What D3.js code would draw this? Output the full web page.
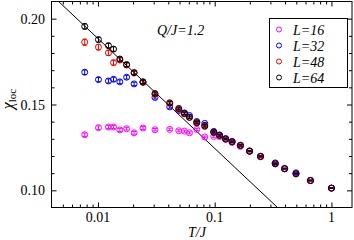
<!DOCTYPE html>
<html>
<head>
<meta charset="utf-8">
<script src="https://cdn.jsdelivr.net/npm/d3@7"></script>
<style>
  body { margin: 0; background: #fff; }
  text { font-family: "Liberation Serif", "Times New Roman", serif; }
</style>
</head>
<body>
<div id="chart"></div>
<script>
// temperatures shared by all system sizes
var temps = [0.0077, 0.0101, 0.0123, 0.0136, 0.0154, 0.0176, 0.0204, 0.0243, 0.0308,
    0.0412, 0.0492, 0.0551, 0.0608, 0.0702, 0.0822, 0.0982, 0.110, 0.124, 0.141,
    0.166, 0.199, 0.247, 0.330, 0.397, 0.497, 0.661, 1.0];

var chiL16 = [0.1324, 0.1365, 0.1369, 0.1369, 0.1352, 0.1359, 0.1335, 0.1363, 0.1353,
    0.1355, 0.1347, 0.1345, 0.1335, 0.1355, 0.1311, 0.1314, 0.1313, 0.1297, 0.1279,
    0.1256, 0.1227, 0.1195, 0.1154, 0.1125, 0.1096, 0.1057, 0.1012];
var chiL32 = [0.1688, 0.1645, 0.1637, 0.1647, 0.1632, 0.1659, 0.1620, 0.1631, 0.1541,
    0.1486, 0.1465, 0.1451, 0.1436, 0.1401, 0.1390, 0.1343, 0.1323, 0.1302, 0.1285,
    0.1262, 0.1230, 0.1198, 0.1160, 0.1128, 0.1102, 0.1058, 0.1013];
var chiL48 = [0.1863, 0.1834, 0.1801, 0.1744, 0.1759, 0.1730, 0.1683, 0.1628, 0.1558,
    0.1506, 0.1471, 0.1445, 0.1424, 0.1392, 0.1372, 0.1337, 0.1320, 0.1299, 0.1283,
    0.1261, 0.1228, 0.1197, 0.1155, 0.1126, 0.1097, 0.1057, 0.1013];
var chiL64 = [0.1955, 0.1878, 0.1843, 0.1823, 0.1765, 0.1733, 0.1686, 0.1632, 0.1564,
    0.1510, 0.1477, 0.1448, 0.1426, 0.1395, 0.1376, 0.1339, 0.1320, 0.1299, 0.1283,
    0.1262, 0.1228, 0.1198, 0.1155, 0.1126, 0.1096, 0.1057, 0.1013];

var errL16 = [0.0010, 0.0010, 0.0009, 0.0009, 0.0009, 0.0008, 0.0008, 0.0008, 0.0007,
    0.0007, 0.0006, 0.0006, 0.0006, 0.0006, 0.0005, 0.0005, 0.0005, 0.0004, 0.0004,
    0.0004, 0.0003, 0.0003, 0.0003, 0.0002, 0.0002, 0.0002, 0.0002];
var errL32 = [0.0013, 0.0012, 0.0012, 0.0012, 0.0011, 0.0011, 0.0010, 0.0010, 0.0009,
    0.0008, 0.0008, 0.0007, 0.0007, 0.0006, 0.0006, 0.0005, 0.0005, 0.0004, 0.0004,
    0.0004, 0.0003, 0.0003, 0.0003, 0.0002, 0.0002, 0.0002, 0.0002];
var errL48 = [0.0018, 0.0016, 0.0015, 0.0014, 0.0013, 0.0012, 0.0011, 0.0010, 0.0009,
    0.0008, 0.0008, 0.0007, 0.0007, 0.0006, 0.0006, 0.0005, 0.0005, 0.0004, 0.0004,
    0.0004, 0.0003, 0.0003, 0.0003, 0.0002, 0.0002, 0.0002, 0.0002];
var errL64 = [0.0015, 0.0014, 0.0013, 0.0013, 0.0012, 0.0011, 0.0010, 0.0010, 0.0009,
    0.0008, 0.0008, 0.0007, 0.0007, 0.0006, 0.0006, 0.0005, 0.0005, 0.0004, 0.0004,
    0.0004, 0.0003, 0.0003, 0.0003, 0.0002, 0.0002, 0.0002, 0.0002];

var seriesNames = ["L=16", "L=32", "L=48", "L=64"];
var seriesColors = ["#ff00ff", "#0000ff", "#ff0000", "#000000"];
var seriesValues = [chiL16, chiL32, chiL48, chiL64];
var seriesErrors = [errL16, errL32, errL48, errL64];

// straight guide line (two end points in data space)
var lineT = [0.004, 0.4];
var lineChi = [0.2139, 0.0859];

var xMajorTicks = [0.01, 0.1, 1];
var xTickLabels = ["0.01", "0.1", "1"];
var xMinorTicks = [0.005, 0.006, 0.007, 0.008, 0.009, 0.02, 0.03, 0.04, 0.05, 0.06,
    0.07, 0.08, 0.09, 0.2, 0.3, 0.4, 0.5, 0.6, 0.7, 0.8, 0.9];
var yMajorTicks = [0.10, 0.15, 0.20];
var yTickLabels = ["0.10", "0.15", "0.20"];
var yMinorTicks = [0.11, 0.12, 0.13, 0.14, 0.16, 0.17, 0.18, 0.19];

var width = 354, height = 240;
var plotLeft = 51.5, plotRight = 352, plotTop = 1.5, plotBottom = 207.5;

var svg = d3.select("#chart")
    .append("svg")
    .attr("width", width)
    .attr("height", height);

var x = d3.scaleLog().domain([0.004, 1.5]).range([plotLeft, plotRight]);
var y = d3.scaleLinear().domain([0.09, 0.21]).range([plotBottom, plotTop]);

svg.append("clipPath").attr("id", "plotclip")
    .append("rect")
    .attr("x", plotLeft).attr("y", plotTop)
    .attr("width", plotRight - plotLeft).attr("height", plotBottom - plotTop);

// ticks pointing inward on all four sides
function tickAxis(axis, pos, values, size) {
    var g = svg.append("g")
        .attr("transform", pos)
        .call(axis.tickValues(values).tickSizeInner(-size).tickSizeOuter(0).tickFormat(""));
    g.select(".domain").remove();
    g.selectAll("line").attr("stroke", "#000").attr("stroke-width", 1);
    return g;
}
tickAxis(d3.axisBottom(x), "translate(0," + plotBottom + ")", xMajorTicks, 5);
tickAxis(d3.axisBottom(x), "translate(0," + plotBottom + ")", xMinorTicks, 3);
tickAxis(d3.axisTop(x), "translate(0," + plotTop + ")", xMajorTicks, 5);
tickAxis(d3.axisTop(x), "translate(0," + plotTop + ")", xMinorTicks, 3);
tickAxis(d3.axisLeft(y), "translate(" + plotLeft + ",0)", yMajorTicks, 5);
tickAxis(d3.axisLeft(y), "translate(" + plotLeft + ",0)", yMinorTicks, 3);
tickAxis(d3.axisRight(y), "translate(" + plotRight + ",0)", yMajorTicks, 5);
tickAxis(d3.axisRight(y), "translate(" + plotRight + ",0)", yMinorTicks, 3);

// tick labels
svg.selectAll(".xlab")
    .data(xMajorTicks)
    .enter()
    .append("text")
    .attr("x", d => x(d))
    .attr("y", 222)
    .attr("text-anchor", "middle")
    .attr("font-size", 14)
    .text((d, i) => xTickLabels[i]);

svg.selectAll(".ylab")
    .data(yMajorTicks)
    .enter()
    .append("text")
    .attr("x", 45)
    .attr("y", d => y(d) + 5)
    .attr("text-anchor", "end")
    .attr("font-size", 14)
    .text((d, i) => yTickLabels[i]);

// axis titles
svg.append("text")
    .attr("x", 197)
    .attr("y", 237)
    .attr("text-anchor", "middle")
    .attr("font-size", 14)
    .attr("font-style", "italic")
    .text("T/J");

var ylabel = svg.append("text")
    .attr("transform", "translate(13,99) rotate(-90)")
    .attr("text-anchor", "middle")
    .attr("font-size", 16);
ylabel.append("tspan").attr("font-style", "italic").text("χ");
ylabel.append("tspan").attr("font-size", 11).attr("dy", 3).text("loc");

svg.append("text")
    .attr("x", 157)
    .attr("y", 35)
    .attr("font-size", 14)
    .attr("font-style", "italic")
    .text("Q/J=1.2");

// guide line
var plot = svg.append("g").attr("clip-path", "url(#plotclip)");
plot.append("line")
    .attr("x1", x(lineT[0])).attr("y1", y(lineChi[0]))
    .attr("x2", x(lineT[1])).attr("y2", y(lineChi[1]))
    .attr("stroke", "#000")
    .attr("stroke-width", 1);

// data with error bars
seriesValues.forEach(function (vals, s) {
    var pts = temps.map((t, i) => ({ t: t, v: vals[i], e: seriesErrors[s][i] }));
    var g = plot.append("g")
        .attr("stroke", seriesColors[s])
        .attr("stroke-width", 1)
        .attr("fill", "none");
    g.selectAll("line.bar")
        .data(pts)
        .enter()
        .append("line")
        .attr("x1", d => x(d.t)).attr("x2", d => x(d.t))
        .attr("y1", d => y(d.v - d.e)).attr("y2", d => y(d.v + d.e));
    g.selectAll("line.capl")
        .data(pts)
        .enter()
        .append("line")
        .attr("x1", d => x(d.t) - 2).attr("x2", d => x(d.t) + 2)
        .attr("y1", d => y(d.v - d.e)).attr("y2", d => y(d.v - d.e));
    g.selectAll("line.caph")
        .data(pts)
        .enter()
        .append("line")
        .attr("x1", d => x(d.t) - 2).attr("x2", d => x(d.t) + 2)
        .attr("y1", d => y(d.v + d.e)).attr("y2", d => y(d.v + d.e));
    g.selectAll("circle")
        .data(pts)
        .enter()
        .append("circle")
        .attr("cx", d => x(d.t))
        .attr("cy", d => y(d.v))
        .attr("r", 3);
});

// frame
svg.append("rect")
    .attr("x", plotLeft).attr("y", plotTop)
    .attr("width", plotRight - plotLeft).attr("height", plotBottom - plotTop)
    .attr("fill", "none")
    .attr("stroke", "#000")
    .attr("stroke-width", 1);

// legend
var legend = svg.append("g");
legend.append("rect")
    .attr("x", 269.5).attr("y", 18.5)
    .attr("width", 78).attr("height", 69)
    .attr("fill", "#fff")
    .attr("stroke", "#000");
seriesNames.forEach(function (name, i) {
    var ly = 29.5 + i * 16;
    legend.append("circle")
        .attr("cx", 279).attr("cy", ly)
        .attr("r", 2.5)
        .attr("fill", "none")
        .attr("stroke", seriesColors[i]);
    legend.append("text")
        .attr("x", 293).attr("y", ly + 5)
        .attr("font-size", 14)
        .attr("font-style", "italic")
        .text(name);
});
</script>
</body>
</html>
